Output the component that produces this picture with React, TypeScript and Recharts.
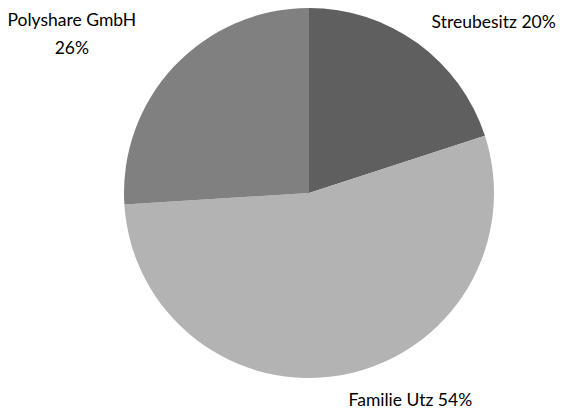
import React from "react"
import { PieChart, Pie, Cell } from "recharts"

const owners = ["Streubesitz", "Familie Utz", "Polyshare GmbH"]
const shares = [20, 54, 26]
const sliceColors = ["#5f5f5f", "#b3b3b3", "#808080"]

const data = owners.map((name, i) => ({ name, value: shares[i] }))

// label placement relative to the point just outside each slice
const labelLayout: Record<string, { dx: number; dy: number; anchor: "start" | "middle" | "end"; split: boolean }> = {
  "Streubesitz": { dx: 8, dy: -7, anchor: "start", split: false },
  "Familie Utz": { dx: 3, dy: 21, anchor: "start", split: false },
  "Polyshare GmbH": { dx: -95, dy: -34, anchor: "middle", split: true },
}

const RADIAN = Math.PI / 180

const renderLabel = (props: any) => {
  const { cx, cy, midAngle, outerRadius, name, value } = props
  const r = outerRadius + 10
  const x = cx + r * Math.cos(-midAngle * RADIAN)
  const y = cy + r * Math.sin(-midAngle * RADIAN)
  const layout = labelLayout[name]
  const lx = x + layout.dx
  const ly = y + layout.dy
  const pct = `${value}%`
  return (
    <text x={lx} y={ly} textAnchor={layout.anchor} fill="#000" fontSize={17.5} fontFamily="Lato, 'Open Sans', sans-serif">
      {layout.split ? (
        <>
          <tspan x={lx} dy={0}>{name}</tspan>
          <tspan x={lx} dy={28}>{pct}</tspan>
        </>
      ) : (
        `${name} ${pct}`
      )}
    </text>
  )
}

export default function App() {
  return (
    <div style={{ position: "absolute", left: 0, top: 0, background: "#fff" }}>
      <PieChart width={576} height={410}>
        <Pie
          data={data}
          dataKey="value"
          nameKey="name"
          cx={304}
          cy={188}
          outerRadius={185}
          startAngle={90}
          endAngle={-270}
          stroke="none"
          label={renderLabel}
          labelLine={false}
          isAnimationActive={false}
        >
          {data.map((d, i) => (
            <Cell key={d.name} fill={sliceColors[i]} />
          ))}
        </Pie>
      </PieChart>
    </div>
  )
}
